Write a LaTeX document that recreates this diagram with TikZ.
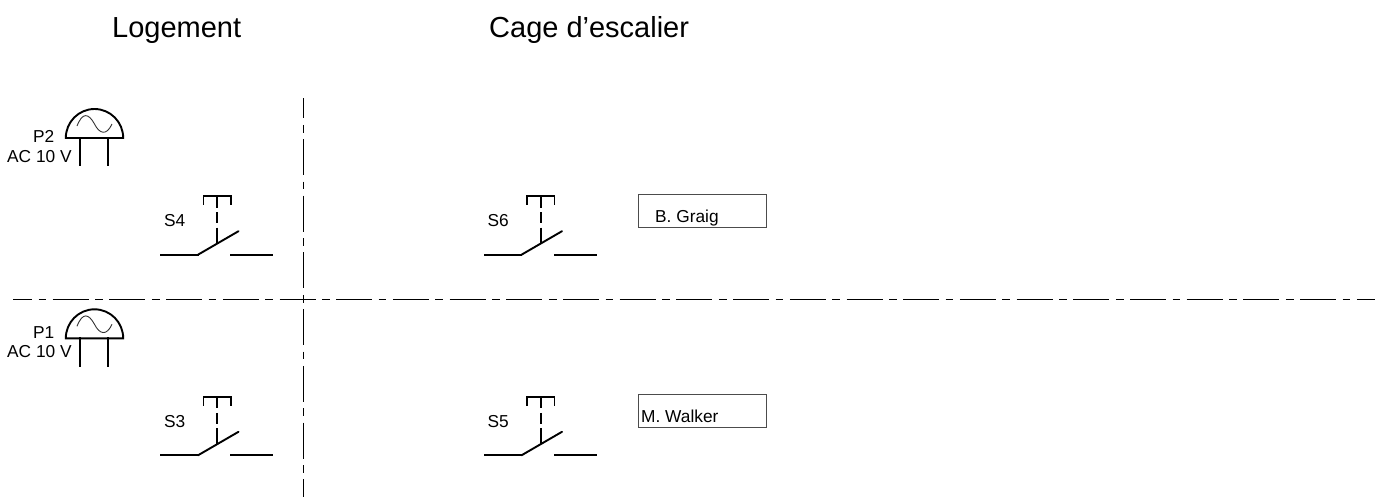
\documentclass[tikz,border=0pt]{standalone}
\usepackage{fontspec}
\setmainfont{Liberation Sans}
\tikzset{
  x=1pt,y=-1pt,
  sym/.style={line width=1.9pt,draw=black,line cap=rect},
  center line/.style={line width=1.2pt,draw=black,dash pattern=on 36pt off 6.5pt on 7.7pt off 6.5pt},
  title/.style={inner sep=0pt,anchor=base west,font=\fontsize{29}{32}\selectfont},
  lbl/.style={inner sep=0pt,anchor=base west,font=\fontsize{17.3}{20}\selectfont},
  namebox/.style={draw=black!70,line width=1.1pt,fill=white,minimum width=128.5pt,minimum height=33.5pt,inner sep=0pt,anchor=north west}
}
\newcommand{\pushswitch}[3]{%
  \begin{scope}[shift={(#1,#2)}]
    \coordinate (#3a) at (0.5,0);
    \coordinate (#3b) at (37.5,0);
    \coordinate (#3c) at (78,-23.5);
    \coordinate (#3d) at (70.5,0);
    \coordinate (#3e) at (112,0);
    \coordinate (#3f) at (56.7,-11.5);
    \coordinate (#3g) at (56.7,-58.5);
    \coordinate (#3h) at (43,-50.5);
    \coordinate (#3i) at (43,-58.5);
    \coordinate (#3j) at (70.5,-58.5);
    \coordinate (#3k) at (70.5,-50.5);
    \draw[sym] (#3a) -- (#3b);
    \draw[sym,line cap=round] (#3b) -- (#3c);
    \draw[sym] (#3d) -- (#3e);
    \draw[sym] (#3i) -- (#3j);
    \draw[sym] (#3h) -- (#3i);
    \draw[sym] (#3j) -- (#3k);
    \draw[sym,line cap=butt,dash pattern=on 11.5pt off 4.5pt on 11pt off 4.5pt on 17pt off 5pt] (#3g) -- (#3f);
  \end{scope}}
\newcommand{\lamp}[3]{%
  \begin{scope}[shift={(#1,#2)}]
    \draw[sym] (-28.7,0) arc[start angle=180,end angle=0,x radius=28.7pt,y radius=29pt] -- cycle;
    \draw[sym] (-14.2,0) -- (-14.2,27.5);
    \draw[sym] (13.5,0) -- (13.5,27.5);
    \draw[line width=.9pt,black!80] (-17.5,-12) .. controls (-12,-26) and (-6,-25) .. (0,-14) .. controls (5,-4) and (12,-2) .. (17.5,-14);
  \end{scope}}
\begin{document}
\begin{tikzpicture}
\useasboundingbox (0,0) rectangle (1383,498);
\node[title] (t1) at (112,37) {Logement};
\node[title] (t2) at (489,37) {Cage d’escalier};

\coordinate (h1) at (13,299.5);
\coordinate (h2) at (1375,299.5);
\coordinate (v1) at (303.5,98);
\coordinate (v2) at (303.5,497);
\draw[center line,dash phase=17pt] (h1) -- (h2);
\draw[center line,dash phase=15.7pt] (v1) -- (v2);

\lamp{94.5}{138}{a}
\lamp{94.5}{338.3}{b}
\node[lbl] (p2) at (33,142.7) {P2};
\node[lbl] (ac2) at (7,162.7) {AC 10 V};
\node[lbl] (p1) at (33,338) {P1};
\node[lbl] (ac1) at (7,357.7) {AC 10 V};

\pushswitch{160.5}{254.7}{sq}
\pushswitch{484}{254.7}{ss}
\pushswitch{160.5}{455.3}{st}
\pushswitch{484}{455.3}{su}
\node[lbl] (s4) at (164,226.7) {S4};
\node[lbl] (s6) at (487.3,226.7) {S6};
\node[lbl] (s3) at (164,427.7) {S3};
\node[lbl] (s5) at (487.3,427.7) {S5};

\node[namebox] (bx1) at (637.5,193.5) {};
\node[lbl] (n1) at (655,222) {B. Graig};
\node[namebox] (bx2) at (637.5,393.5) {};
\node[lbl] (n2) at (641,422) {M. Walker};
\end{tikzpicture}
\end{document}
